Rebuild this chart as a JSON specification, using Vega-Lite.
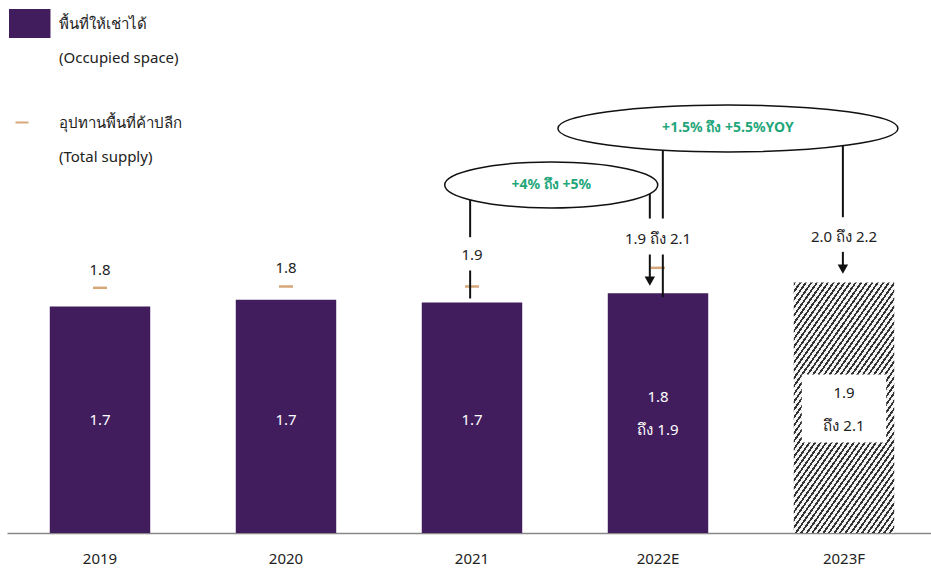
{
  "$schema": "https://vega.github.io/schema/vega-lite/v6.json",
  "width": 930,
  "height": 533,
  "padding": {"left": 7, "top": 0, "right": 0, "bottom": 5},
  "background": "white",
  "config": {"view": {"stroke": null}, "font": "Noto Sans"},
  "datasets": {
    "bars": [
      {"year": "2019", "occupied": 1.70, "kind": "พื้นที่ให้เช่าได้"},
      {"year": "2020", "occupied": 1.75, "kind": "พื้นที่ให้เช่าได้"},
      {"year": "2021", "occupied": 1.73, "kind": "พื้นที่ให้เช่าได้"},
      {"year": "2022E", "occupied": 1.80, "kind": "พื้นที่ให้เช่าได้"}
    ],
    "forecast": [{"year": "2023F", "occupied": 1.88}],
    "whitebox": [{"year": "2023F", "lo": 0.68, "hi": 1.19}],
    "barlabels": [
      {"year": "2019", "y": 0.85, "text": "1.7"},
      {"year": "2020", "y": 0.85, "text": "1.7"},
      {"year": "2021", "y": 0.85, "text": "1.7"},
      {"year": "2022E", "y": 1.02, "text": "1.8\nถึง 1.9"},
      {"year": "2023F", "y": 1.05, "text": "1.9\nถึง 2.1"}
    ],
    "supply": [
      {"year": "2019", "supply": 1.84, "kind": "อุปทานพื้นที่ค้าปลีก"},
      {"year": "2020", "supply": 1.85, "kind": "อุปทานพื้นที่ค้าปลีก"},
      {"year": "2021", "supply": 1.85, "kind": "อุปทานพื้นที่ค้าปลีก"},
      {"year": "2022E", "supply": 1.99, "kind": "อุปทานพื้นที่ค้าปลีก"}
    ],
    "supplylabels": [
      {"year": "2019", "y": 1.97, "text": "1.8"},
      {"year": "2020", "y": 1.99, "text": "1.8"},
      {"year": "2021", "y": 2.09, "text": "1.9"},
      {"year": "2022E", "y": 2.21, "text": "1.9 ถึง 2.1"},
      {"year": "2023F", "y": 2.22, "text": "2.0 ถึง 2.2"}
    ],
    "rules": [
      {"x": 2.49, "y": 2.52, "y2": 2.22},
      {"x": 2.49, "y": 1.97, "y2": 1.76},
      {"x": 3.456, "y": 2.58, "y2": 2.36},
      {"x": 3.456, "y": 2.09, "y2": 1.90},
      {"x": 3.526, "y": 2.92, "y2": 2.36},
      {"x": 3.526, "y": 2.09, "y2": 1.77},
      {"x": 4.494, "y": 2.94, "y2": 2.37},
      {"x": 4.494, "y": 2.11, "y2": 1.99}
    ],
    "heads": [
      {"x": 3.456, "y": 1.89},
      {"x": 4.494, "y": 1.98}
    ],
    "ellipseSmall": [{"x": 2.926, "y": 2.612, "text": "+4% ถึง +5%"}],
    "ellipseBig": [{"x": 3.876, "y": 3.036, "text": "+1.5% ถึง +5.5%YOY"}]
  },
  "resolve": {"scale": {"x": "independent"}},
  "layer": [
    {
      "layer": [
        {
          "data": {"name": "bars"},
          "mark": {"type": "bar"},
          "encoding": {
            "x": {
              "field": "year", "type": "nominal", "sort": null,
              "scale": {"domain": ["2019", "2020", "2021", "2022E", "2023F"], "paddingInner": 0.46, "paddingOuter": 0.23},
              "axis": {"title": null, "labelAngle": 0, "ticks": false, "tickSize": 0, "labelPadding": 18, "labelFontSize": 15, "labelColor": "#222", "domainColor": "#888", "domainWidth": 1.5, "grid": false}
            },
            "y": {"field": "occupied", "type": "quantitative", "scale": {"domain": [0, 4], "nice": false}, "axis": null},
            "color": {
              "field": "kind", "type": "nominal",
              "scale": {"domain": ["พื้นที่ให้เช่าได้", "อุปทานพื้นที่ค้าปลีก"], "range": ["#411d5e", "#d6a77a"]},
              "legend": {
                "orient": "none", "legendX": 2, "legendY": 1.5, "title": null, "padding": 0,
                "direction": "vertical", "rowPadding": 35,
                "symbolType": "M -1 -0.643 L 1 -0.643 L 1 0.643 L -1 0.643 Z",
                "symbolSize": 1764, "symbolOpacity": 1,
                "labelFontSize": 15, "labelColor": "#222", "labelOffset": 6, "labelLimit": 400,
                "labelExpr": "datum.value === 'พื้นที่ให้เช่าได้' ? ['พื้นที่ให้เช่าได้', '(Occupied space)'] : ['อุปทานพื้นที่ค้าปลีก', '(Total supply)']",
                "labelBaseline": "middle",
                "encode": {
                  "labels": {"update": {"lineHeight": {"value": 34}}},
                  "symbols": {"update": {
                    "shape": {"signal": "datum.value === 'พื้นที่ให้เช่าได้' ? 'M -1 -0.643 L 0.88 -0.643 L 0.88 0.643 L -1 0.643 Z' : 'M -0.738 0 L -0.119 0'"},
                    "fill": {"signal": "datum.value === 'พื้นที่ให้เช่าได้' ? '#411d5e' : 'transparent'"},
                    "stroke": {"signal": "datum.value === 'พื้นที่ให้เช่าได้' ? 'transparent' : '#c9b3a0'"},
                    "strokeWidth": {"value": 2},
                    "opacity": {"value": 1}
                  }}
                }
              }
            }
          }
        },
        {
          "data": {"name": "forecast"},
          "mark": {
            "type": "bar",
            "fill": {
              "gradient": "linear", "x1": 0, "y1": 0, "x2": 0.675, "y2": 1.185,
              "stops": [
                {"offset": 0, "color": "#333333"}, {"offset": 0.008, "color": "#333333"}, {"offset": 0.008, "color": "#f4f4f4"}, {"offset": 0.02, "color": "#f4f4f4"},
                {"offset": 0.02, "color": "#333333"}, {"offset": 0.028, "color": "#333333"}, {"offset": 0.028, "color": "#f4f4f4"}, {"offset": 0.04, "color": "#f4f4f4"},
                {"offset": 0.04, "color": "#333333"}, {"offset": 0.048, "color": "#333333"}, {"offset": 0.048, "color": "#f4f4f4"}, {"offset": 0.06, "color": "#f4f4f4"},
                {"offset": 0.06, "color": "#333333"}, {"offset": 0.068, "color": "#333333"}, {"offset": 0.068, "color": "#f4f4f4"}, {"offset": 0.08, "color": "#f4f4f4"},
                {"offset": 0.08, "color": "#333333"}, {"offset": 0.088, "color": "#333333"}, {"offset": 0.088, "color": "#f4f4f4"}, {"offset": 0.1, "color": "#f4f4f4"},
                {"offset": 0.1, "color": "#333333"}, {"offset": 0.108, "color": "#333333"}, {"offset": 0.108, "color": "#f4f4f4"}, {"offset": 0.12, "color": "#f4f4f4"},
                {"offset": 0.12, "color": "#333333"}, {"offset": 0.128, "color": "#333333"}, {"offset": 0.128, "color": "#f4f4f4"}, {"offset": 0.14, "color": "#f4f4f4"},
                {"offset": 0.14, "color": "#333333"}, {"offset": 0.148, "color": "#333333"}, {"offset": 0.148, "color": "#f4f4f4"}, {"offset": 0.16, "color": "#f4f4f4"},
                {"offset": 0.16, "color": "#333333"}, {"offset": 0.168, "color": "#333333"}, {"offset": 0.168, "color": "#f4f4f4"}, {"offset": 0.18, "color": "#f4f4f4"},
                {"offset": 0.18, "color": "#333333"}, {"offset": 0.188, "color": "#333333"}, {"offset": 0.188, "color": "#f4f4f4"}, {"offset": 0.2, "color": "#f4f4f4"},
                {"offset": 0.2, "color": "#333333"}, {"offset": 0.208, "color": "#333333"}, {"offset": 0.208, "color": "#f4f4f4"}, {"offset": 0.22, "color": "#f4f4f4"},
                {"offset": 0.22, "color": "#333333"}, {"offset": 0.228, "color": "#333333"}, {"offset": 0.228, "color": "#f4f4f4"}, {"offset": 0.24, "color": "#f4f4f4"},
                {"offset": 0.24, "color": "#333333"}, {"offset": 0.248, "color": "#333333"}, {"offset": 0.248, "color": "#f4f4f4"}, {"offset": 0.26, "color": "#f4f4f4"},
                {"offset": 0.26, "color": "#333333"}, {"offset": 0.268, "color": "#333333"}, {"offset": 0.268, "color": "#f4f4f4"}, {"offset": 0.28, "color": "#f4f4f4"},
                {"offset": 0.28, "color": "#333333"}, {"offset": 0.288, "color": "#333333"}, {"offset": 0.288, "color": "#f4f4f4"}, {"offset": 0.3, "color": "#f4f4f4"},
                {"offset": 0.3, "color": "#333333"}, {"offset": 0.308, "color": "#333333"}, {"offset": 0.308, "color": "#f4f4f4"}, {"offset": 0.32, "color": "#f4f4f4"},
                {"offset": 0.32, "color": "#333333"}, {"offset": 0.328, "color": "#333333"}, {"offset": 0.328, "color": "#f4f4f4"}, {"offset": 0.34, "color": "#f4f4f4"},
                {"offset": 0.34, "color": "#333333"}, {"offset": 0.348, "color": "#333333"}, {"offset": 0.348, "color": "#f4f4f4"}, {"offset": 0.36, "color": "#f4f4f4"},
                {"offset": 0.36, "color": "#333333"}, {"offset": 0.368, "color": "#333333"}, {"offset": 0.368, "color": "#f4f4f4"}, {"offset": 0.38, "color": "#f4f4f4"},
                {"offset": 0.38, "color": "#333333"}, {"offset": 0.388, "color": "#333333"}, {"offset": 0.388, "color": "#f4f4f4"}, {"offset": 0.4, "color": "#f4f4f4"},
                {"offset": 0.4, "color": "#333333"}, {"offset": 0.408, "color": "#333333"}, {"offset": 0.408, "color": "#f4f4f4"}, {"offset": 0.42, "color": "#f4f4f4"},
                {"offset": 0.42, "color": "#333333"}, {"offset": 0.428, "color": "#333333"}, {"offset": 0.428, "color": "#f4f4f4"}, {"offset": 0.44, "color": "#f4f4f4"},
                {"offset": 0.44, "color": "#333333"}, {"offset": 0.448, "color": "#333333"}, {"offset": 0.448, "color": "#f4f4f4"}, {"offset": 0.46, "color": "#f4f4f4"},
                {"offset": 0.46, "color": "#333333"}, {"offset": 0.468, "color": "#333333"}, {"offset": 0.468, "color": "#f4f4f4"}, {"offset": 0.48, "color": "#f4f4f4"},
                {"offset": 0.48, "color": "#333333"}, {"offset": 0.488, "color": "#333333"}, {"offset": 0.488, "color": "#f4f4f4"}, {"offset": 0.5, "color": "#f4f4f4"},
                {"offset": 0.5, "color": "#333333"}, {"offset": 0.508, "color": "#333333"}, {"offset": 0.508, "color": "#f4f4f4"}, {"offset": 0.52, "color": "#f4f4f4"},
                {"offset": 0.52, "color": "#333333"}, {"offset": 0.528, "color": "#333333"}, {"offset": 0.528, "color": "#f4f4f4"}, {"offset": 0.54, "color": "#f4f4f4"},
                {"offset": 0.54, "color": "#333333"}, {"offset": 0.548, "color": "#333333"}, {"offset": 0.548, "color": "#f4f4f4"}, {"offset": 0.56, "color": "#f4f4f4"},
                {"offset": 0.56, "color": "#333333"}, {"offset": 0.568, "color": "#333333"}, {"offset": 0.568, "color": "#f4f4f4"}, {"offset": 0.58, "color": "#f4f4f4"},
                {"offset": 0.58, "color": "#333333"}, {"offset": 0.588, "color": "#333333"}, {"offset": 0.588, "color": "#f4f4f4"}, {"offset": 0.6, "color": "#f4f4f4"},
                {"offset": 0.6, "color": "#333333"}, {"offset": 0.608, "color": "#333333"}, {"offset": 0.608, "color": "#f4f4f4"}, {"offset": 0.62, "color": "#f4f4f4"},
                {"offset": 0.62, "color": "#333333"}, {"offset": 0.628, "color": "#333333"}, {"offset": 0.628, "color": "#f4f4f4"}, {"offset": 0.64, "color": "#f4f4f4"},
                {"offset": 0.64, "color": "#333333"}, {"offset": 0.648, "color": "#333333"}, {"offset": 0.648, "color": "#f4f4f4"}, {"offset": 0.66, "color": "#f4f4f4"},
                {"offset": 0.66, "color": "#333333"}, {"offset": 0.668, "color": "#333333"}, {"offset": 0.668, "color": "#f4f4f4"}, {"offset": 0.68, "color": "#f4f4f4"},
                {"offset": 0.68, "color": "#333333"}, {"offset": 0.688, "color": "#333333"}, {"offset": 0.688, "color": "#f4f4f4"}, {"offset": 0.7, "color": "#f4f4f4"},
                {"offset": 0.7, "color": "#333333"}, {"offset": 0.708, "color": "#333333"}, {"offset": 0.708, "color": "#f4f4f4"}, {"offset": 0.72, "color": "#f4f4f4"},
                {"offset": 0.72, "color": "#333333"}, {"offset": 0.728, "color": "#333333"}, {"offset": 0.728, "color": "#f4f4f4"}, {"offset": 0.74, "color": "#f4f4f4"},
                {"offset": 0.74, "color": "#333333"}, {"offset": 0.748, "color": "#333333"}, {"offset": 0.748, "color": "#f4f4f4"}, {"offset": 0.76, "color": "#f4f4f4"},
                {"offset": 0.76, "color": "#333333"}, {"offset": 0.768, "color": "#333333"}, {"offset": 0.768, "color": "#f4f4f4"}, {"offset": 0.78, "color": "#f4f4f4"},
                {"offset": 0.78, "color": "#333333"}, {"offset": 0.788, "color": "#333333"}, {"offset": 0.788, "color": "#f4f4f4"}, {"offset": 0.8, "color": "#f4f4f4"},
                {"offset": 0.8, "color": "#333333"}, {"offset": 0.808, "color": "#333333"}, {"offset": 0.808, "color": "#f4f4f4"}, {"offset": 0.82, "color": "#f4f4f4"},
                {"offset": 0.82, "color": "#333333"}, {"offset": 0.828, "color": "#333333"}, {"offset": 0.828, "color": "#f4f4f4"}, {"offset": 0.84, "color": "#f4f4f4"},
                {"offset": 0.84, "color": "#333333"}, {"offset": 0.848, "color": "#333333"}, {"offset": 0.848, "color": "#f4f4f4"}, {"offset": 0.86, "color": "#f4f4f4"},
                {"offset": 0.86, "color": "#333333"}, {"offset": 0.868, "color": "#333333"}, {"offset": 0.868, "color": "#f4f4f4"}, {"offset": 0.88, "color": "#f4f4f4"},
                {"offset": 0.88, "color": "#333333"}, {"offset": 0.888, "color": "#333333"}, {"offset": 0.888, "color": "#f4f4f4"}, {"offset": 0.9, "color": "#f4f4f4"},
                {"offset": 0.9, "color": "#333333"}, {"offset": 0.908, "color": "#333333"}, {"offset": 0.908, "color": "#f4f4f4"}, {"offset": 0.92, "color": "#f4f4f4"},
                {"offset": 0.92, "color": "#333333"}, {"offset": 0.928, "color": "#333333"}, {"offset": 0.928, "color": "#f4f4f4"}, {"offset": 0.94, "color": "#f4f4f4"},
                {"offset": 0.94, "color": "#333333"}, {"offset": 0.948, "color": "#333333"}, {"offset": 0.948, "color": "#f4f4f4"}, {"offset": 0.96, "color": "#f4f4f4"},
                {"offset": 0.96, "color": "#333333"}, {"offset": 0.968, "color": "#333333"}, {"offset": 0.968, "color": "#f4f4f4"}, {"offset": 0.98, "color": "#f4f4f4"},
                {"offset": 0.98, "color": "#333333"}, {"offset": 0.988, "color": "#333333"}, {"offset": 0.988, "color": "#f4f4f4"}, {"offset": 1, "color": "#f4f4f4"}
              ]
            }
          },
          "encoding": {
            "x": {"field": "year", "type": "nominal", "sort": null},
            "y": {"field": "occupied", "type": "quantitative"}
          }
        },
        {
          "data": {"name": "whitebox"},
          "mark": {"type": "bar", "fill": "white", "width": {"band": 0.84}},
          "encoding": {
            "x": {"field": "year", "type": "nominal", "sort": null},
            "y": {"field": "lo", "type": "quantitative"},
            "y2": {"field": "hi"}
          }
        },
        {
          "data": {"name": "barlabels"},
          "mark": {"type": "text", "lineBreak": "\n", "fontSize": 15, "lineHeight": 33, "baseline": "middle", "align": "center"},
          "encoding": {
            "x": {"field": "year", "type": "nominal", "sort": null},
            "y": {"field": "y", "type": "quantitative"},
            "text": {"field": "text"},
            "color": {"condition": {"test": "datum.year === '2023F'", "value": "#222222"}, "value": "#ffffff"}
          }
        },
        {
          "data": {"name": "supply"},
          "mark": {"type": "point", "shape": "stroke", "filled": false, "size": 196, "strokeWidth": 2.5, "opacity": 1},
          "encoding": {
            "x": {"field": "year", "type": "nominal", "sort": null},
            "y": {"field": "supply", "type": "quantitative"},
            "color": {"field": "kind", "type": "nominal"}
          }
        },
        {
          "data": {"name": "supplylabels"},
          "mark": {"type": "text", "fontSize": 15, "color": "#222222", "baseline": "middle", "align": "center"},
          "encoding": {
            "x": {"field": "year", "type": "nominal", "sort": null},
            "y": {"field": "y", "type": "quantitative"},
            "text": {"field": "text"}
          }
        }
      ]
    },
    {
      "layer": [
        {
          "data": {"name": "rules"},
          "mark": {"type": "rule", "color": "#111111", "strokeWidth": 2},
          "encoding": {
            "x": {"field": "x", "type": "quantitative", "scale": {"domain": [0, 5], "nice": false, "zero": false}, "axis": null},
            "y": {"field": "y", "type": "quantitative"},
            "y2": {"field": "y2"}
          }
        },
        {
          "data": {"name": "heads"},
          "mark": {"type": "point", "shape": "triangle-down", "size": 110, "filled": true, "color": "#111111", "opacity": 1},
          "encoding": {
            "x": {"field": "x", "type": "quantitative"},
            "y": {"field": "y", "type": "quantitative"}
          }
        },
        {
          "data": {"name": "ellipseSmall"},
          "mark": {"type": "point", "shape": "M -1 0 A 1 0.216 0 1 1 1 0 A 1 0.216 0 1 1 -1 0 Z", "size": 45369, "filled": true, "fill": "white", "stroke": "#111111", "strokeWidth": 1.5, "opacity": 1},
          "encoding": {
            "x": {"field": "x", "type": "quantitative"},
            "y": {"field": "y", "type": "quantitative"}
          }
        },
        {
          "data": {"name": "ellipseBig"},
          "mark": {"type": "point", "shape": "M -1 0 A 1 0.138 0 1 1 1 0 A 1 0.138 0 1 1 -1 0 Z", "size": 115600, "filled": true, "fill": "white", "stroke": "#111111", "strokeWidth": 1.5, "opacity": 1},
          "encoding": {
            "x": {"field": "x", "type": "quantitative"},
            "y": {"field": "y", "type": "quantitative"}
          }
        },
        {
          "data": {"name": "ellipseSmall"},
          "mark": {"type": "text", "fontSize": 14, "fontWeight": "bold", "color": "#1fa67a", "baseline": "middle", "align": "center"},
          "encoding": {
            "x": {"field": "x", "type": "quantitative"},
            "y": {"field": "y", "type": "quantitative"},
            "text": {"field": "text"}
          }
        },
        {
          "data": {"name": "ellipseBig"},
          "mark": {"type": "text", "fontSize": 14, "fontWeight": "bold", "color": "#1fa67a", "baseline": "middle", "align": "center"},
          "encoding": {
            "x": {"field": "x", "type": "quantitative"},
            "y": {"field": "y", "type": "quantitative"},
            "text": {"field": "text"}
          }
        }
      ]
    }
  ]
}
